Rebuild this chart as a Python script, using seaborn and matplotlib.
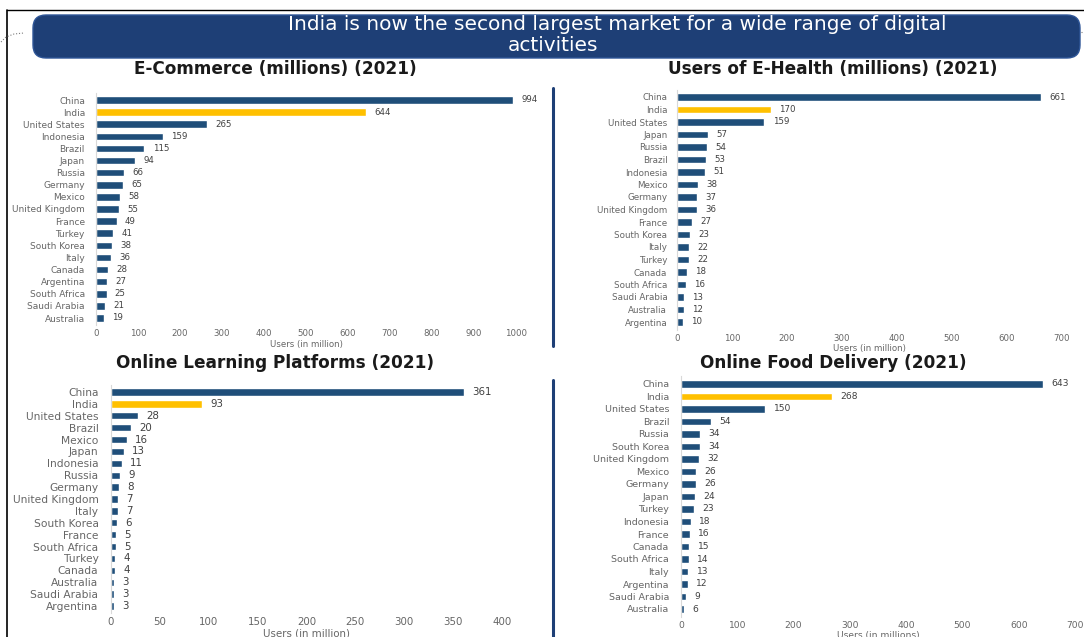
import matplotlib
matplotlib.use("Agg")
import matplotlib.pyplot as plt
import seaborn as sns
import pandas as pd
from matplotlib.patches import FancyBboxPatch
from matplotlib.lines import Line2D

# ---------------- data ----------------
ecom_countries = ["China", "India", "United States", "Indonesia", "Brazil", "Japan", "Russia",
                  "Germany", "Mexico", "United Kingdom", "France", "Turkey", "South Korea",
                  "Italy", "Canada", "Argentina", "South Africa", "Saudi Arabia", "Australia"]
ecom_values = [994, 644, 265, 159, 115, 94, 66, 65, 58, 55, 49, 41, 38, 36, 28, 27, 25, 21, 19]

health_countries = ["China", "India", "United States", "Japan", "Russia", "Brazil", "Indonesia",
                    "Mexico", "Germany", "United Kingdom", "France", "South Korea", "Italy",
                    "Turkey", "Canada", "South Africa", "Saudi Arabia", "Australia", "Argentina"]
health_values = [661, 170, 159, 57, 54, 53, 51, 38, 37, 36, 27, 23, 22, 22, 18, 16, 13, 12, 10]

learn_countries = ["China", "India", "United States", "Brazil", "Mexico", "Japan", "Indonesia",
                   "Russia", "Germany", "United Kingdom", "Italy", "South Korea", "France",
                   "South Africa", "Turkey", "Canada", "Australia", "Saudi Arabia", "Argentina"]
learn_values = [361, 93, 28, 20, 16, 13, 11, 9, 8, 7, 7, 6, 5, 5, 4, 4, 3, 3, 3]

food_countries = ["China", "India", "United States", "Brazil", "Russia", "South Korea",
                  "United Kingdom", "Mexico", "Germany", "Japan", "Turkey", "Indonesia", "France",
                  "Canada", "South Africa", "Italy", "Argentina", "Saudi Arabia", "Australia"]
food_values = [643, 268, 150, 54, 34, 34, 32, 26, 26, 24, 23, 18, 16, 15, 14, 13, 12, 9, 6]

main_title_1 = "India is now the second largest market for a wide range of digital"
main_title_2 = "activities"
panel_titles = ["E-Commerce (millions) (2021)", "Users of E-Health (millions) (2021)",
                "Online Learning Platforms (2021)", "Online Food Delivery (2021)"]
panel_xlabels = ["Users (in million)", "Users (in million)", "Users (in million)",
                 "Users (in millions)"]

BLUE = "#1F4E79"
GOLD = "#FFC000"
NAVY = "#1E3F76"
GREY = "#666666"

W, H = 1084, 637
sns.set_style("white")
plt.rcParams["font.family"] = ["DejaVu Sans"]

fig = plt.figure(figsize=(W / 100, H / 100), dpi=100)
fig.patch.set_facecolor("white")


def rect(x0, x1, y_first, y_last, n=19, m=0.6):
    s = (y_last - y_first) / (n - 1)
    top = y_first - m * s
    bot = y_last + m * s
    return [x0 / W, 1 - bot / H, (x1 - x0) / W, (bot - top) / H]


def inch(x, y):
    return x / 100, (H - y) / 100


def panel(r, countries, values, xmax, step, fs_lab, fs_tick, ypad, xlabel, vpad=6):
    ax = fig.add_axes(r)
    df = pd.DataFrame({"country": countries, "value": values})
    pal = {c: (GOLD if c == "India" else BLUE) for c in countries}
    sns.barplot(data=df, y="country", x="value", hue="country", palette=pal,
                legend=False, width=0.62, ax=ax, saturation=1)
    for cont in ax.containers:
        ax.bar_label(cont, padding=vpad, fontsize=fs_tick, color="#404040")
    ax.set_xlim(0, xmax)
    ax.set_ylim(18.6, -0.6)
    ax.set_xticks(range(0, xmax + 1, step))
    ax.tick_params(axis="both", length=0, labelsize=fs_tick, colors=GREY)
    ax.tick_params(axis="y", pad=ypad, labelsize=fs_lab)
    ax.tick_params(axis="x", pad=3)
    ax.set_ylabel("")
    ax.set_xlabel(xlabel, fontsize=fs_tick, color=GREY, labelpad=1)
    for sp in ["top", "right", "bottom"]:
        ax.spines[sp].set_visible(False)
    ax.spines["left"].set_color("#D9D9D9")
    ax.spines["left"].set_linewidth(0.8)
    ax.set_facecolor("none")
    return ax


panel(rect(96, 516, 100, 318), ecom_countries, ecom_values, 1000, 100, 6.5, 6.2, 8, panel_xlabels[0])
panel(rect(677, 1062, 97, 322), health_countries, health_values, 700, 100, 6.3, 6.2, 7, panel_xlabels[1])
panel(rect(111, 502, 392, 606), learn_countries, learn_values, 400, 50, 7.7, 7.4, 9, panel_xlabels[2])
panel(rect(681, 1075, 384, 609), food_countries, food_values, 700, 100, 6.8, 6.6, 8.5, panel_xlabels[3])

# panel titles
for (cx, cy), t in zip([(275, 69), (833, 69), (275, 363), (833, 363)], panel_titles):
    fig.text(cx / W, 1 - cy / H, t, ha="center", va="center", fontsize=12.2,
             fontweight="bold", color="#1A1A1A")

# banner
bx, by = inch(33, 58)
banner = FancyBboxPatch((bx, by), (1080 - 33) / 100, (58 - 15) / 100,
                        boxstyle="round,pad=0,rounding_size=0.13",
                        transform=fig.dpi_scale_trans, facecolor=NAVY,
                        edgecolor="#2E5597", linewidth=1.0, zorder=5)
fig.patches.append(banner)
fig.text(617 / W, 1 - 25 / H, main_title_1, ha="center", va="center", fontsize=14.5,
         color="white", zorder=6)
fig.text(553 / W, 1 - 45.5 / H, main_title_2, ha="center", va="center", fontsize=14.5,
         color="white", zorder=6)

# frame lines
def fline(xs, ys, **kw):
    pts = [inch(x, y) for x, y in zip(xs, ys)]
    fig.add_artist(Line2D([p[0] for p in pts], [p[1] for p in pts],
                          transform=fig.dpi_scale_trans, **kw))

fline([7, 1084], [10, 10], color="black", linewidth=1.0)
fline([7, 7], [10, 637], color="black", linewidth=1.2)
fline([553, 553], [88, 346], color=NAVY, linewidth=2.2)
fline([553, 553], [380, 637], color=NAVY, linewidth=2.2)
fline([1, 6, 14, 24], [42, 37, 34, 33], color="#7F7F7F", linewidth=0.8, linestyle=":")
fline([1078, 1084], [32, 32], color="#7F7F7F", linewidth=0.8, linestyle=":")

fig.savefig("out.png", dpi=100)
